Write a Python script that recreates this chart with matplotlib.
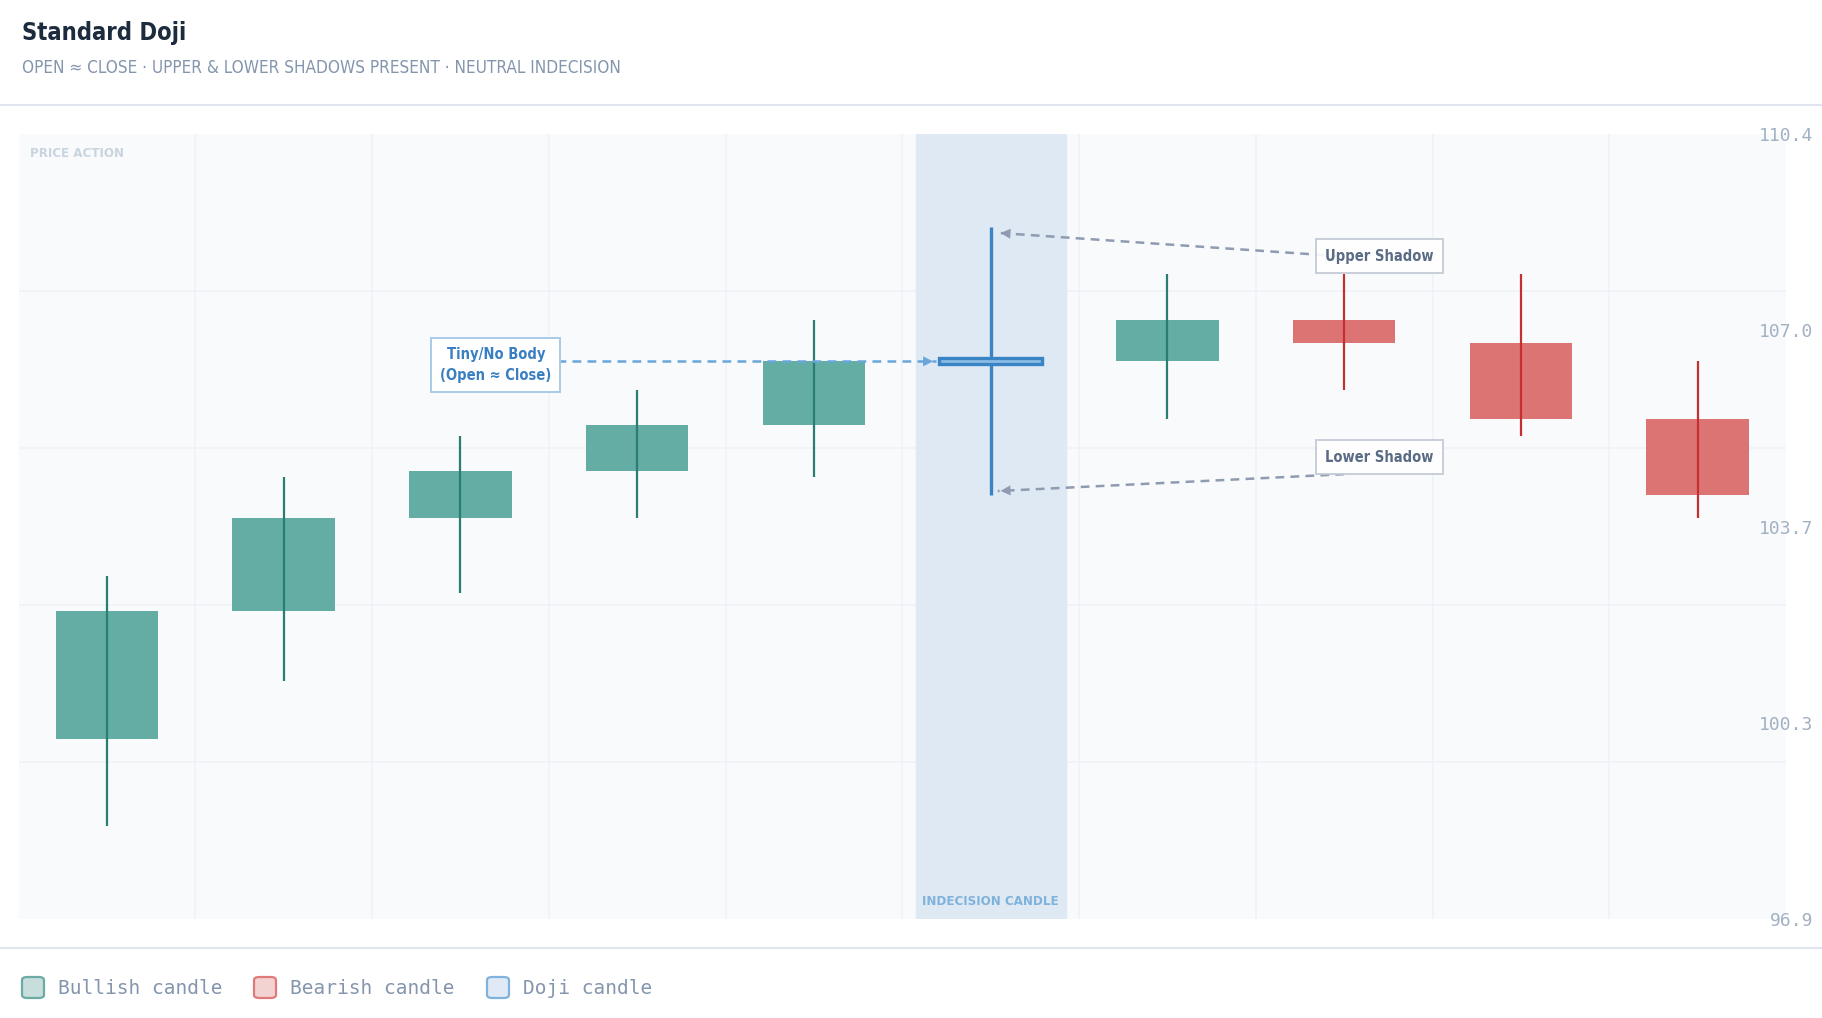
import numpy as np
import matplotlib.pyplot as plt
from matplotlib.patches import FancyBboxPatch
from matplotlib.lines import Line2D

# candle data (OHLC)
opens = [100.0, 102.2, 103.8, 104.6, 105.4, 106.45, 106.5, 107.2, 106.8, 105.5]
closes = [102.2, 103.8, 104.6, 105.4, 106.5, 106.55, 107.2, 106.8, 105.5, 104.2]
highs = [102.8, 104.5, 105.2, 106.0, 107.2, 108.8, 108.0, 108.0, 108.0, 106.5]
lows = [98.5, 101.0, 102.5, 103.8, 104.5, 104.2, 105.5, 106.0, 105.2, 103.8]
doji_index = 5
y_tick_labels = ['96.9', '100.3', '103.7', '107.0', '110.4']
legend_labels = ['Bullish candle', 'Bearish candle', 'Doji candle']

NARROW = ['Liberation Sans Narrow', 'DejaVu Sans']
MONO = ['DejaVu Sans Mono']

BULL, BULL_WICK = '#63ada4', '#2b7d73'
BEAR, BEAR_WICK = '#dc7474', '#c62f2f'
DOJI = '#3a84c5'

W, H = 1822, 1018
fig = plt.figure(figsize=(W / 100, H / 100), dpi=100)
fig.patch.set_facecolor('white')

ax = fig.add_axes([18.6 / W, 1 - 919 / H, (1786 - 18.6) / W, (919 - 134) / H])
ax.set_facecolor('#f8fafc')
for s in ax.spines.values():
    s.set_visible(False)

n = len(opens)
x = np.arange(n)
ymin, ymax = min(lows) - 1.6, max(highs) + 1.6
ax.set_xlim(-0.5, n - 0.5)
ax.set_ylim(ymin, ymax)

# grid
for gy in np.linspace(ymin, ymax, 6)[1:-1]:
    ax.axhline(gy, color='#eef1f6', lw=1.1, zorder=0)
for gx in np.arange(0.5, n - 0.5, 1):
    ax.axvline(gx, color='#eef1f6', lw=1.1, zorder=0)

# doji highlight band
ax.axvspan(doji_index - 0.425, doji_index + 0.425, color='#dee9f4', zorder=1)

body_w = 0.58
for i in range(n):
    if i == doji_index:
        continue
    up = closes[i] >= opens[i]
    lo, hi = min(opens[i], closes[i]), max(opens[i], closes[i])
    ax.bar(x[i], hi - lo, bottom=lo, width=body_w, color=BULL if up else BEAR,
           zorder=3)
    ax.vlines(x[i], lows[i], highs[i], color=BULL_WICK if up else BEAR_WICK,
              lw=1.6, zorder=4)

# doji
d = doji_index
ax.vlines(d, lows[d], highs[d], color=DOJI, lw=2.4, zorder=4)
ax.bar(d, closes[d] - opens[d], bottom=opens[d], width=body_w,
       facecolor='#8dbde6', edgecolor=DOJI, lw=2.4, zorder=5)

# labels inside plot
ax.text(0.0065, 0.983, 'PRICE ACTION', transform=ax.transAxes, ha='left', va='top',
        family=NARROW, fontstretch='condensed', fontweight='bold', fontsize=9.5,
        color='#c8d5df', zorder=6)
ax.text(d, ymin + 0.3, 'INDECISION CANDLE', ha='center', va='center',
        family=NARROW, fontstretch='condensed', fontweight='bold', fontsize=9.5,
        color='#7fb3dc', zorder=6)

# annotations
def dashed_arrow(x0, y0, x1, y1, color):
    ax.plot([x0, x1], [y0, y1], color=color, lw=1.8, ls=(0, (3.5, 2.5)), zorder=6)
    dx, dy = x1 - x0, y1 - y0
    ax.annotate('', xy=(x1, y1), xytext=(x1 - dx * 0.03, y1 - dy * 0.03),
                arrowprops=dict(arrowstyle='-|>', color=color, lw=0, mutation_scale=18),
                zorder=6)

dashed_arrow(2.46, opens[d] + 0.04, d - body_w / 2 - 0.02, opens[d] + 0.04, '#6aa6da')
dashed_arrow(6.97, 108.30, d + 0.04, highs[d] - 0.1, '#8e9bb0')
dashed_arrow(7.0, 104.55, d + 0.04, lows[d] + 0.06, '#8e9bb0')

ax.text(2.2, 106.43, 'Tiny/No Body\n(Open \u2248 Close)', ha='center', va='center',
        family=NARROW, fontstretch='condensed', fontweight='bold', fontsize=10.5,
        color='#3a7fc1', linespacing=1.5, zorder=7,
        bbox=dict(boxstyle='square,pad=0.6', fc='white', ec='#a8cbe8', lw=1.4))
for label, ly in [('Upper Shadow', 108.30), ('Lower Shadow', 104.84)]:
    ax.text(7.2, ly, label, ha='center', va='center',
            family=NARROW, fontstretch='condensed', fontweight='bold', fontsize=10.5,
            color='#5a6b85', zorder=7,
            bbox=dict(boxstyle='square,pad=0.65', fc='white', ec='#c3cad6', lw=1.4,
                      alpha=0.9))

# y ticks on the right
ax.set_xticks([])
ax.set_yticks(np.linspace(ymin, ymax, 5), y_tick_labels)
ax.yaxis.tick_right()
ax.tick_params(axis='y', length=0, pad=19.4, labelsize=13, labelcolor='#a2b1c3')
for lbl in ax.get_yticklabels():
    lbl.set_ha('right')
    lbl.set_family(MONO)

# header
fig.text(22 / W, 1 - 33 / H, 'Standard Doji', ha='left', va='center',
         family=NARROW, fontstretch='condensed', fontweight='bold', fontsize=17,
         color='#1c2b3e')
fig.text(22 / W, 1 - 68 / H,
         'OPEN \u2248 CLOSE \u00b7 UPPER & LOWER SHADOWS PRESENT \u00b7 NEUTRAL INDECISION',
         ha='left', va='center', family=NARROW, fontstretch='condensed', fontsize=12.3,
         color='#8496ad')
for yy in (105, 948):
    fig.add_artist(Line2D([0, 1], [1 - yy / H] * 2, color='#e1e5ef', lw=1.5))

# legend
sw_face = ['#c7dedc', '#f3d2d2', '#dfeaf6']
sw_edge = ['#6aaca4', '#e07a7a', '#7fb3dc']
sw_x = [22, 254, 487]
for lab, fc, ec, px in zip(legend_labels, sw_face, sw_edge, sw_x):
    fig.add_artist(FancyBboxPatch((px / W, 1 - 998 / H), 22 / W, 21 / H,
                                  boxstyle='round,pad=0,rounding_size=0.003',
                                  fc=fc, ec=ec, lw=1.6, transform=fig.transFigure))
    fig.text((px + 36) / W, 1 - 988 / H, lab, ha='left', va='center',
             family=MONO, fontsize=14, color='#8496ad')

fig.savefig('out.png', dpi=100)
